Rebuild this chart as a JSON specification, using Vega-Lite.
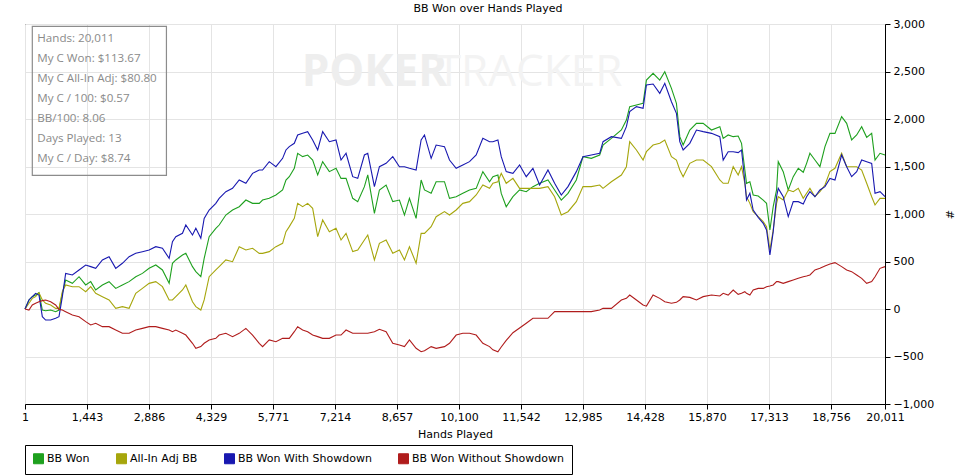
{
  "$schema": "https://vega.github.io/schema/vega-lite/v6.json",
  "description": "BB won over hands played, PokerTracker style graph.",
  "width": 860,
  "height": 380,
  "autosize": "none",
  "padding": {"left": 25, "top": 24, "right": 71, "bottom": 71},
  "title": {
    "text": "BB Won over Hands Played",
    "font": "DejaVu Sans",
    "fontSize": 11,
    "fontWeight": "normal",
    "color": "black",
    "anchor": "middle",
    "dx": 33,
    "offset": 4
  },
  "datasets": {
    "curve": [
      {"h": 1, "BB Won": 0, "All-In Adj BB": 0, "BB Won With Showdown": 0, "BB Won Without Showdown": 0},
      {"h": 93, "BB Won": 95, "All-In Adj BB": 60, "BB Won With Showdown": 95, "BB Won Without Showdown": -11},
      {"h": 171, "BB Won": 130, "All-In Adj BB": 112, "BB Won With Showdown": 130, "BB Won Without Showdown": 42},
      {"h": 248, "BB Won": 147, "All-In Adj BB": 130, "BB Won With Showdown": 165, "BB Won Without Showdown": 60},
      {"h": 326, "BB Won": 172, "All-In Adj BB": 172, "BB Won With Showdown": 147, "BB Won Without Showdown": 77},
      {"h": 404, "BB Won": -11, "All-In Adj BB": 95, "BB Won With Showdown": -81, "BB Won Without Showdown": 88},
      {"h": 481, "BB Won": -18, "All-In Adj BB": 60, "BB Won With Showdown": -116, "BB Won Without Showdown": 95},
      {"h": 598, "BB Won": -11, "All-In Adj BB": 42, "BB Won With Showdown": -116, "BB Won Without Showdown": 77},
      {"h": 714, "BB Won": -28, "All-In Adj BB": 7, "BB Won With Showdown": -98, "BB Won Without Showdown": 42},
      {"h": 792, "BB Won": -11, "All-In Adj BB": 7, "BB Won With Showdown": -81, "BB Won Without Showdown": -4},
      {"h": 870, "BB Won": 165, "All-In Adj BB": 182, "BB Won With Showdown": 130, "BB Won Without Showdown": -11},
      {"h": 947, "BB Won": 305, "All-In Adj BB": 253, "BB Won With Showdown": 375, "BB Won Without Showdown": -28},
      {"h": 1103, "BB Won": 270, "All-In Adj BB": 235, "BB Won With Showdown": 358, "BB Won Without Showdown": -63},
      {"h": 1258, "BB Won": 340, "All-In Adj BB": 235, "BB Won With Showdown": 411, "BB Won Without Showdown": -81},
      {"h": 1413, "BB Won": 253, "All-In Adj BB": 182, "BB Won With Showdown": 463, "BB Won Without Showdown": -133},
      {"h": 1530, "BB Won": 288, "All-In Adj BB": 235, "BB Won With Showdown": 446, "BB Won Without Showdown": -168},
      {"h": 1646, "BB Won": 200, "All-In Adj BB": 165, "BB Won With Showdown": 428, "BB Won Without Showdown": -151},
      {"h": 1802, "BB Won": 253, "All-In Adj BB": 130, "BB Won With Showdown": 516, "BB Won Without Showdown": -186},
      {"h": 1957, "BB Won": 288, "All-In Adj BB": 95, "BB Won With Showdown": 551, "BB Won Without Showdown": -186},
      {"h": 2112, "BB Won": 217, "All-In Adj BB": 7, "BB Won With Showdown": 428, "BB Won Without Showdown": -221},
      {"h": 2267, "BB Won": 253, "All-In Adj BB": 25, "BB Won With Showdown": 481, "BB Won Without Showdown": -256},
      {"h": 2423, "BB Won": 288, "All-In Adj BB": 7, "BB Won With Showdown": 551, "BB Won Without Showdown": -256},
      {"h": 2578, "BB Won": 340, "All-In Adj BB": 165, "BB Won With Showdown": 586, "BB Won Without Showdown": -221},
      {"h": 2733, "BB Won": 375, "All-In Adj BB": 217, "BB Won With Showdown": 603, "BB Won Without Showdown": -204},
      {"h": 2889, "BB Won": 428, "All-In Adj BB": 270, "BB Won With Showdown": 621, "BB Won Without Showdown": -186},
      {"h": 3044, "BB Won": 463, "All-In Adj BB": 288, "BB Won With Showdown": 656, "BB Won Without Showdown": -186},
      {"h": 3199, "BB Won": 411, "All-In Adj BB": 235, "BB Won With Showdown": 639, "BB Won Without Showdown": -204},
      {"h": 3355, "BB Won": 270, "All-In Adj BB": 95, "BB Won With Showdown": 533, "BB Won Without Showdown": -221},
      {"h": 3432, "BB Won": 481, "All-In Adj BB": 95, "BB Won With Showdown": 709, "BB Won Without Showdown": -239},
      {"h": 3510, "BB Won": 516, "All-In Adj BB": 130, "BB Won With Showdown": 761, "BB Won Without Showdown": -221},
      {"h": 3665, "BB Won": 568, "All-In Adj BB": 200, "BB Won With Showdown": 797, "BB Won Without Showdown": -256},
      {"h": 3743, "BB Won": 586, "All-In Adj BB": 253, "BB Won With Showdown": 884, "BB Won Without Showdown": -274},
      {"h": 3898, "BB Won": 446, "All-In Adj BB": 77, "BB Won With Showdown": 779, "BB Won Without Showdown": -361},
      {"h": 3976, "BB Won": 393, "All-In Adj BB": 25, "BB Won With Showdown": 849, "BB Won Without Showdown": -414},
      {"h": 4092, "BB Won": 340, "All-In Adj BB": -11, "BB Won With Showdown": 744, "BB Won Without Showdown": -396},
      {"h": 4170, "BB Won": 533, "All-In Adj BB": 95, "BB Won With Showdown": 954, "BB Won Without Showdown": -361},
      {"h": 4286, "BB Won": 761, "All-In Adj BB": 340, "BB Won With Showdown": 1042, "BB Won Without Showdown": -326},
      {"h": 4441, "BB Won": 849, "All-In Adj BB": 411, "BB Won With Showdown": 1112, "BB Won Without Showdown": -309},
      {"h": 4519, "BB Won": 884, "All-In Adj BB": 446, "BB Won With Showdown": 1165, "BB Won Without Showdown": -274},
      {"h": 4674, "BB Won": 989, "All-In Adj BB": 516, "BB Won With Showdown": 1235, "BB Won Without Showdown": -256},
      {"h": 4830, "BB Won": 1042, "All-In Adj BB": 498, "BB Won With Showdown": 1270, "BB Won Without Showdown": -291},
      {"h": 4985, "BB Won": 1077, "All-In Adj BB": 656, "BB Won With Showdown": 1358, "BB Won Without Showdown": -256},
      {"h": 5140, "BB Won": 1147, "All-In Adj BB": 621, "BB Won With Showdown": 1323, "BB Won Without Showdown": -204},
      {"h": 5296, "BB Won": 1112, "All-In Adj BB": 639, "BB Won With Showdown": 1428, "BB Won Without Showdown": -274},
      {"h": 5451, "BB Won": 1112, "All-In Adj BB": 586, "BB Won With Showdown": 1463, "BB Won Without Showdown": -361},
      {"h": 5529, "BB Won": 1147, "All-In Adj BB": 586, "BB Won With Showdown": 1463, "BB Won Without Showdown": -396},
      {"h": 5684, "BB Won": 1165, "All-In Adj BB": 604, "BB Won With Showdown": 1551, "BB Won Without Showdown": -326},
      {"h": 5839, "BB Won": 1200, "All-In Adj BB": 656, "BB Won With Showdown": 1498, "BB Won Without Showdown": -344},
      {"h": 5995, "BB Won": 1253, "All-In Adj BB": 691, "BB Won With Showdown": 1586, "BB Won Without Showdown": -309},
      {"h": 6073, "BB Won": 1358, "All-In Adj BB": 814, "BB Won With Showdown": 1674, "BB Won Without Showdown": -309},
      {"h": 6150, "BB Won": 1393, "All-In Adj BB": 867, "BB Won With Showdown": 1709, "BB Won Without Showdown": -309},
      {"h": 6267, "BB Won": 1481, "All-In Adj BB": 954, "BB Won With Showdown": 1744, "BB Won Without Showdown": -239},
      {"h": 6345, "BB Won": 1639, "All-In Adj BB": 1112, "BB Won With Showdown": 1832, "BB Won Without Showdown": -186},
      {"h": 6461, "BB Won": 1604, "All-In Adj BB": 1077, "BB Won With Showdown": 1849, "BB Won Without Showdown": -221},
      {"h": 6578, "BB Won": 1621, "All-In Adj BB": 1112, "BB Won With Showdown": 1867, "BB Won Without Showdown": -239},
      {"h": 6694, "BB Won": 1568, "All-In Adj BB": 1060, "BB Won With Showdown": 1779, "BB Won Without Showdown": -274},
      {"h": 6811, "BB Won": 1411, "All-In Adj BB": 761, "BB Won With Showdown": 1674, "BB Won Without Showdown": -291},
      {"h": 6927, "BB Won": 1551, "All-In Adj BB": 937, "BB Won With Showdown": 1867, "BB Won Without Showdown": -309},
      {"h": 7082, "BB Won": 1446, "All-In Adj BB": 814, "BB Won With Showdown": 1761, "BB Won Without Showdown": -309},
      {"h": 7238, "BB Won": 1481, "All-In Adj BB": 849, "BB Won With Showdown": 1779, "BB Won Without Showdown": -274},
      {"h": 7354, "BB Won": 1375, "All-In Adj BB": 726, "BB Won With Showdown": 1568, "BB Won Without Showdown": -274},
      {"h": 7471, "BB Won": 1375, "All-In Adj BB": 796, "BB Won With Showdown": 1639, "BB Won Without Showdown": -221},
      {"h": 7626, "BB Won": 1165, "All-In Adj BB": 604, "BB Won With Showdown": 1393, "BB Won Without Showdown": -256},
      {"h": 7743, "BB Won": 1130, "All-In Adj BB": 621, "BB Won With Showdown": 1375, "BB Won Without Showdown": -256},
      {"h": 7898, "BB Won": 1288, "All-In Adj BB": 726, "BB Won With Showdown": 1621, "BB Won Without Showdown": -256},
      {"h": 7976, "BB Won": 1411, "All-In Adj BB": 779, "BB Won With Showdown": 1639, "BB Won Without Showdown": -256},
      {"h": 8131, "BB Won": 1007, "All-In Adj BB": 516, "BB Won With Showdown": 1288, "BB Won Without Showdown": -239},
      {"h": 8247, "BB Won": 1253, "All-In Adj BB": 691, "BB Won With Showdown": 1498, "BB Won Without Showdown": -214},
      {"h": 8403, "BB Won": 1305, "All-In Adj BB": 726, "BB Won With Showdown": 1533, "BB Won Without Showdown": -239},
      {"h": 8558, "BB Won": 1130, "All-In Adj BB": 586, "BB Won With Showdown": 1603, "BB Won Without Showdown": -361},
      {"h": 8713, "BB Won": 1147, "All-In Adj BB": 621, "BB Won With Showdown": 1498, "BB Won Without Showdown": -379},
      {"h": 8830, "BB Won": 989, "All-In Adj BB": 516, "BB Won With Showdown": 1498, "BB Won Without Showdown": -396},
      {"h": 8946, "BB Won": 1165, "All-In Adj BB": 656, "BB Won With Showdown": 1481, "BB Won Without Showdown": -326},
      {"h": 9101, "BB Won": 954, "All-In Adj BB": 481, "BB Won With Showdown": 1463, "BB Won Without Showdown": -414},
      {"h": 9218, "BB Won": 1358, "All-In Adj BB": 796, "BB Won With Showdown": 1779, "BB Won Without Showdown": -449},
      {"h": 9296, "BB Won": 1253, "All-In Adj BB": 796, "BB Won With Showdown": 1832, "BB Won Without Showdown": -439},
      {"h": 9451, "BB Won": 1218, "All-In Adj BB": 867, "BB Won With Showdown": 1586, "BB Won Without Showdown": -396},
      {"h": 9567, "BB Won": 1340, "All-In Adj BB": 972, "BB Won With Showdown": 1726, "BB Won Without Showdown": -414},
      {"h": 9761, "BB Won": 1340, "All-In Adj BB": 1025, "BB Won With Showdown": 1709, "BB Won Without Showdown": -396},
      {"h": 9878, "BB Won": 1165, "All-In Adj BB": 989, "BB Won With Showdown": 1568, "BB Won Without Showdown": -361},
      {"h": 10033, "BB Won": 1182, "All-In Adj BB": 1042, "BB Won With Showdown": 1481, "BB Won Without Showdown": -274},
      {"h": 10188, "BB Won": 1218, "All-In Adj BB": 1112, "BB Won With Showdown": 1516, "BB Won Without Showdown": -256},
      {"h": 10344, "BB Won": 1253, "All-In Adj BB": 1130, "BB Won With Showdown": 1551, "BB Won Without Showdown": -256},
      {"h": 10499, "BB Won": 1270, "All-In Adj BB": 1200, "BB Won With Showdown": 1621, "BB Won Without Showdown": -274},
      {"h": 10654, "BB Won": 1446, "All-In Adj BB": 1305, "BB Won With Showdown": 1796, "BB Won Without Showdown": -361},
      {"h": 10810, "BB Won": 1340, "All-In Adj BB": 1270, "BB Won With Showdown": 1761, "BB Won Without Showdown": -396},
      {"h": 10888, "BB Won": 1393, "All-In Adj BB": 1323, "BB Won With Showdown": 1761, "BB Won Without Showdown": -430},
      {"h": 11004, "BB Won": 1410, "All-In Adj BB": 1340, "BB Won With Showdown": 1779, "BB Won Without Showdown": -450},
      {"h": 11082, "BB Won": 1217, "All-In Adj BB": 1428, "BB Won With Showdown": 1603, "BB Won Without Showdown": -400},
      {"h": 11198, "BB Won": 1077, "All-In Adj BB": 1323, "BB Won With Showdown": 1446, "BB Won Without Showdown": -330},
      {"h": 11354, "BB Won": 1182, "All-In Adj BB": 1375, "BB Won With Showdown": 1428, "BB Won Without Showdown": -250},
      {"h": 11509, "BB Won": 1253, "All-In Adj BB": 1270, "BB Won With Showdown": 1516, "BB Won Without Showdown": -200},
      {"h": 11664, "BB Won": 1235, "All-In Adj BB": 1270, "BB Won With Showdown": 1393, "BB Won Without Showdown": -150},
      {"h": 11819, "BB Won": 1288, "All-In Adj BB": 1270, "BB Won With Showdown": 1481, "BB Won Without Showdown": -98},
      {"h": 11975, "BB Won": 1323, "All-In Adj BB": 1270, "BB Won With Showdown": 1305, "BB Won Without Showdown": -98},
      {"h": 12169, "BB Won": 1358, "All-In Adj BB": 1288, "BB Won With Showdown": 1463, "BB Won Without Showdown": -98},
      {"h": 12324, "BB Won": 1253, "All-In Adj BB": 1182, "BB Won With Showdown": 1323, "BB Won Without Showdown": -28},
      {"h": 12479, "BB Won": 1147, "All-In Adj BB": 989, "BB Won With Showdown": 1200, "BB Won Without Showdown": -28},
      {"h": 12635, "BB Won": 1217, "All-In Adj BB": 1024, "BB Won With Showdown": 1288, "BB Won Without Showdown": -28},
      {"h": 12829, "BB Won": 1358, "All-In Adj BB": 1130, "BB Won With Showdown": 1446, "BB Won Without Showdown": -28},
      {"h": 12984, "BB Won": 1603, "All-In Adj BB": 1288, "BB Won With Showdown": 1603, "BB Won Without Showdown": -28},
      {"h": 13178, "BB Won": 1586, "All-In Adj BB": 1288, "BB Won With Showdown": 1621, "BB Won Without Showdown": -28},
      {"h": 13372, "BB Won": 1621, "All-In Adj BB": 1305, "BB Won With Showdown": 1639, "BB Won Without Showdown": -10},
      {"h": 13450, "BB Won": 1726, "All-In Adj BB": 1270, "BB Won With Showdown": 1761, "BB Won Without Showdown": 7},
      {"h": 13644, "BB Won": 1796, "All-In Adj BB": 1340, "BB Won With Showdown": 1814, "BB Won Without Showdown": 7},
      {"h": 13877, "BB Won": 1884, "All-In Adj BB": 1410, "BB Won With Showdown": 1796, "BB Won Without Showdown": 95},
      {"h": 13994, "BB Won": 1989, "All-In Adj BB": 1498, "BB Won With Showdown": 1919, "BB Won Without Showdown": 112},
      {"h": 14071, "BB Won": 2130, "All-In Adj BB": 1761, "BB Won With Showdown": 2077, "BB Won Without Showdown": 147},
      {"h": 14227, "BB Won": 2147, "All-In Adj BB": 1674, "BB Won With Showdown": 2130, "BB Won Without Showdown": 95},
      {"h": 14382, "BB Won": 2165, "All-In Adj BB": 1568, "BB Won With Showdown": 2112, "BB Won Without Showdown": 42},
      {"h": 14460, "BB Won": 2410, "All-In Adj BB": 1656, "BB Won With Showdown": 2358, "BB Won Without Showdown": 30},
      {"h": 14615, "BB Won": 2481, "All-In Adj BB": 1726, "BB Won With Showdown": 2368, "BB Won Without Showdown": 147},
      {"h": 14770, "BB Won": 2410, "All-In Adj BB": 1744, "BB Won With Showdown": 2270, "BB Won Without Showdown": 112},
      {"h": 14887, "BB Won": 2498, "All-In Adj BB": 1779, "BB Won With Showdown": 2375, "BB Won Without Showdown": 77},
      {"h": 15042, "BB Won": 2323, "All-In Adj BB": 1603, "BB Won With Showdown": 2182, "BB Won Without Showdown": 60},
      {"h": 15158, "BB Won": 2165, "All-In Adj BB": 1568, "BB Won With Showdown": 2060, "BB Won Without Showdown": 70},
      {"h": 15236, "BB Won": 1814, "All-In Adj BB": 1463, "BB Won With Showdown": 1761, "BB Won Without Showdown": 95},
      {"h": 15314, "BB Won": 1726, "All-In Adj BB": 1393, "BB Won With Showdown": 1674, "BB Won Without Showdown": 130},
      {"h": 15469, "BB Won": 1884, "All-In Adj BB": 1533, "BB Won With Showdown": 1744, "BB Won Without Showdown": 122},
      {"h": 15624, "BB Won": 1954, "All-In Adj BB": 1568, "BB Won With Showdown": 1884, "BB Won Without Showdown": 95},
      {"h": 15780, "BB Won": 1954, "All-In Adj BB": 1568, "BB Won With Showdown": 1867, "BB Won Without Showdown": 130},
      {"h": 15974, "BB Won": 1884, "All-In Adj BB": 1498, "BB Won With Showdown": 1849, "BB Won Without Showdown": 147},
      {"h": 16168, "BB Won": 1919, "All-In Adj BB": 1358, "BB Won With Showdown": 1814, "BB Won Without Showdown": 137},
      {"h": 16246, "BB Won": 1796, "All-In Adj BB": 1323, "BB Won With Showdown": 1568, "BB Won Without Showdown": 165},
      {"h": 16362, "BB Won": 1832, "All-In Adj BB": 1323, "BB Won With Showdown": 1656, "BB Won Without Showdown": 147},
      {"h": 16479, "BB Won": 1814, "All-In Adj BB": 1498, "BB Won With Showdown": 1656, "BB Won Without Showdown": 200},
      {"h": 16595, "BB Won": 1821, "All-In Adj BB": 1411, "BB Won With Showdown": 1646, "BB Won Without Showdown": 154},
      {"h": 16673, "BB Won": 1744, "All-In Adj BB": 1498, "BB Won With Showdown": 1674, "BB Won Without Showdown": 165},
      {"h": 16750, "BB Won": 1463, "All-In Adj BB": 1323, "BB Won With Showdown": 1340, "BB Won Without Showdown": 182},
      {"h": 16789, "BB Won": 1323, "All-In Adj BB": 1182, "BB Won With Showdown": 1147, "BB Won Without Showdown": 165},
      {"h": 16867, "BB Won": 1340, "All-In Adj BB": 1112, "BB Won With Showdown": 1218, "BB Won Without Showdown": 147},
      {"h": 16944, "BB Won": 1200, "All-In Adj BB": 1025, "BB Won With Showdown": 1042, "BB Won Without Showdown": 200},
      {"h": 17061, "BB Won": 1190, "All-In Adj BB": 972, "BB Won With Showdown": 965, "BB Won Without Showdown": 217},
      {"h": 17177, "BB Won": 1147, "All-In Adj BB": 919, "BB Won With Showdown": 902, "BB Won Without Showdown": 217},
      {"h": 17255, "BB Won": 1112, "All-In Adj BB": 867, "BB Won With Showdown": 832, "BB Won Without Showdown": 235},
      {"h": 17333, "BB Won": 832, "All-In Adj BB": 621, "BB Won With Showdown": 568, "BB Won Without Showdown": 242},
      {"h": 17410, "BB Won": 1077, "All-In Adj BB": 832, "BB Won With Showdown": 814, "BB Won Without Showdown": 253},
      {"h": 17488, "BB Won": 1253, "All-In Adj BB": 1112, "BB Won With Showdown": 1182, "BB Won Without Showdown": 288},
      {"h": 17527, "BB Won": 1551, "All-In Adj BB": 1182, "BB Won With Showdown": 1270, "BB Won Without Showdown": 288},
      {"h": 17643, "BB Won": 1446, "All-In Adj BB": 1147, "BB Won With Showdown": 1182, "BB Won Without Showdown": 270},
      {"h": 17760, "BB Won": 1253, "All-In Adj BB": 1253, "BB Won With Showdown": 972, "BB Won Without Showdown": 288},
      {"h": 17876, "BB Won": 1393, "All-In Adj BB": 1235, "BB Won With Showdown": 1130, "BB Won Without Showdown": 305},
      {"h": 17993, "BB Won": 1481, "All-In Adj BB": 1270, "BB Won With Showdown": 1130, "BB Won Without Showdown": 323},
      {"h": 18109, "BB Won": 1439, "All-In Adj BB": 1165, "BB Won With Showdown": 1105, "BB Won Without Showdown": 340},
      {"h": 18187, "BB Won": 1533, "All-In Adj BB": 1218, "BB Won With Showdown": 1182, "BB Won Without Showdown": 347},
      {"h": 18264, "BB Won": 1639, "All-In Adj BB": 1270, "BB Won With Showdown": 1235, "BB Won Without Showdown": 358},
      {"h": 18381, "BB Won": 1568, "All-In Adj BB": 1182, "BB Won With Showdown": 1182, "BB Won Without Showdown": 411},
      {"h": 18497, "BB Won": 1498, "All-In Adj BB": 1235, "BB Won With Showdown": 1253, "BB Won Without Showdown": 428},
      {"h": 18614, "BB Won": 1709, "All-In Adj BB": 1305, "BB Won With Showdown": 1288, "BB Won Without Showdown": 453},
      {"h": 18730, "BB Won": 1849, "All-In Adj BB": 1446, "BB Won With Showdown": 1375, "BB Won Without Showdown": 474},
      {"h": 18847, "BB Won": 1849, "All-In Adj BB": 1481, "BB Won With Showdown": 1358, "BB Won Without Showdown": 488},
      {"h": 19002, "BB Won": 2025, "All-In Adj BB": 1639, "BB Won With Showdown": 1621, "BB Won Without Showdown": 446},
      {"h": 19119, "BB Won": 1954, "All-In Adj BB": 1498, "BB Won With Showdown": 1498, "BB Won Without Showdown": 411},
      {"h": 19235, "BB Won": 1779, "All-In Adj BB": 1498, "BB Won With Showdown": 1393, "BB Won Without Showdown": 393},
      {"h": 19352, "BB Won": 1832, "All-In Adj BB": 1498, "BB Won With Showdown": 1446, "BB Won Without Showdown": 358},
      {"h": 19468, "BB Won": 1919, "All-In Adj BB": 1463, "BB Won With Showdown": 1568, "BB Won Without Showdown": 323},
      {"h": 19585, "BB Won": 1807, "All-In Adj BB": 1323, "BB Won With Showdown": 1551, "BB Won Without Showdown": 270},
      {"h": 19701, "BB Won": 1849, "All-In Adj BB": 1182, "BB Won With Showdown": 1533, "BB Won Without Showdown": 288},
      {"h": 19779, "BB Won": 1568, "All-In Adj BB": 1095, "BB Won With Showdown": 1218, "BB Won Without Showdown": 340},
      {"h": 19895, "BB Won": 1639, "All-In Adj BB": 1165, "BB Won With Showdown": 1235, "BB Won Without Showdown": 428},
      {"h": 20011, "BB Won": 1621, "All-In Adj BB": 1165, "BB Won With Showdown": 1182, "BB Won Without Showdown": 446}
    ],
    "stats": [
      {"h": 287, "v": 2842, "t": "Hands: 20,011"},
      {"h": 287, "v": 2632, "t": "My C Won: $113.67"},
      {"h": 287, "v": 2421, "t": "My C All-In Adj: $80.80"},
      {"h": 287, "v": 2211, "t": "My C / 100: $0.57"},
      {"h": 287, "v": 2000, "t": "BB/100: 8.06"},
      {"h": 287, "v": 1789, "t": "Days Played: 13"},
      {"h": 287, "v": 1579, "t": "My C / Day: $8.74"}
    ],
    "statsbox": [
      {"h": 171, "h2": 3292, "v": 2976, "v2": 1407}
    ],
    "poker": [
      {"h": 8131, "v": 2481, "t": "POKER"}
    ],
    "tracker": [
      {"h": 11741, "v": 2481, "t": "TRACKER"}
    ]
  },
  "layer": [
    {
      "data": {"name": "poker"},
      "mark": {"type": "text", "font": "Open Sans", "fontSize": 44, "fontWeight": "bold", "color": "#eeeeee", "align": "center", "baseline": "middle"},
      "encoding": {
        "x": {"field": "h", "type": "quantitative"},
        "y": {"field": "v", "type": "quantitative"},
        "text": {"field": "t"}
      }
    },
    {
      "data": {"name": "tracker"},
      "mark": {"type": "text", "font": "Open Sans", "fontSize": 44, "fontWeight": "normal", "color": "#f3f3f3", "align": "center", "baseline": "middle"},
      "encoding": {
        "x": {"field": "h", "type": "quantitative"},
        "y": {"field": "v", "type": "quantitative"},
        "text": {"field": "t"}
      }
    },
    {
      "mark": {"type": "rule", "color": "black", "strokeWidth": 1},
      "encoding": {"y": {"datum": 0, "type": "quantitative"}}
    },
    {
      "data": {"name": "curve"},
      "transform": [
        {"fold": ["BB Won", "All-In Adj BB", "BB Won With Showdown", "BB Won Without Showdown"], "as": ["series", "v"]}
      ],
      "mark": {"type": "line", "strokeWidth": 1.1, "interpolate": "linear"},
      "encoding": {
        "x": {
          "field": "h",
          "type": "quantitative",
          "title": "Hands Played",
          "scale": {"domain": [1, 20011], "nice": false, "zero": false},
          "axis": {
            "values": [1, 1443, 2886, 4329, 5771, 7214, 8657, 10100, 11542, 12985, 14428, 15870, 17313, 18756, 20011],
            "format": ",.0f",
            "grid": true,
            "gridColor": "#e4e4e4",
            "gridOpacity": 1,
            "labelPadding": 2,
            "titlePadding": 6,
            "labelFlush": false,
            "labelOverlap": false
          }
        },
        "y": {
          "field": "v",
          "type": "quantitative",
          "title": "#",
          "scale": {"domain": [-1000, 3000], "nice": false, "zero": false},
          "axis": {
            "orient": "right",
            "values": [-1000, -500, 0, 500, 1000, 1500, 2000, 2500, 3000],
            "format": ",.0f",
            "grid": true,
            "gridColor": "#e4e4e4",
            "gridOpacity": 1,
            "labelPadding": 3,
            "titlePadding": 10,
            "labelFlush": false,
            "labelOverlap": false
          }
        },
        "color": {
          "field": "series",
          "type": "nominal",
          "sort": null,
          "scale": {
            "domain": ["BB Won", "All-In Adj BB", "BB Won With Showdown", "BB Won Without Showdown"],
            "range": ["#1ea01e", "#a6a60c", "#1818b0", "#b01c1c"]
          },
          "legend": {
            "orient": "none",
            "legendX": 0,
            "legendY": 421,
            "direction": "horizontal",
            "columns": 4,
            "title": null,
            "strokeColor": "black",
            "padding": 8,
            "symbolType": "square",
            "symbolSize": 100,
            "symbolOffset": 0,
            "labelOffset": 3,
            "labelFontSize": 11,
            "labelColor": "black",
            "columnPadding": 24,
            "encode": {
              "symbols": {
                "update": {
                  "fill": {"scale": "color", "field": "value"},
                  "stroke": {"value": "black"},
                  "strokeWidth": {"value": 1},
                  "opacity": {"value": 1}
                }
              }
            }
          }
        }
      }
    },
    {
      "data": {"name": "statsbox"},
      "mark": {"type": "rect", "fill": null, "fillOpacity": 0, "stroke": "#8c8c8c", "strokeWidth": 1.2},
      "encoding": {
        "x": {"field": "h", "type": "quantitative"},
        "x2": {"field": "h2"},
        "y": {"field": "v", "type": "quantitative"},
        "y2": {"field": "v2"}
      }
    },
    {
      "data": {"name": "stats"},
      "mark": {"type": "text", "font": "Open Sans", "fontSize": 11.6, "color": "#8a8a8a", "align": "left", "baseline": "middle"},
      "encoding": {
        "x": {"field": "h", "type": "quantitative"},
        "y": {"field": "v", "type": "quantitative"},
        "text": {"field": "t"}
      }
    }
  ],
  "config": {
    "font": "DejaVu Sans",
    "background": "white",
    "view": {"stroke": "black", "strokeWidth": 1},
    "axis": {
      "grid": true,
      "labelFont": "DejaVu Sans",
      "labelFontSize": 11,
      "labelColor": "black",
      "titleFont": "DejaVu Sans",
      "titleFontSize": 11,
      "titleFontWeight": "normal",
      "titleColor": "black",
      "domainColor": "black",
      "tickColor": "black",
      "tickSize": 5,
      "gridColor": "#e4e4e4",
      "gridWidth": 1
    },
    "legend": {"labelFont": "DejaVu Sans"}
  }
}
